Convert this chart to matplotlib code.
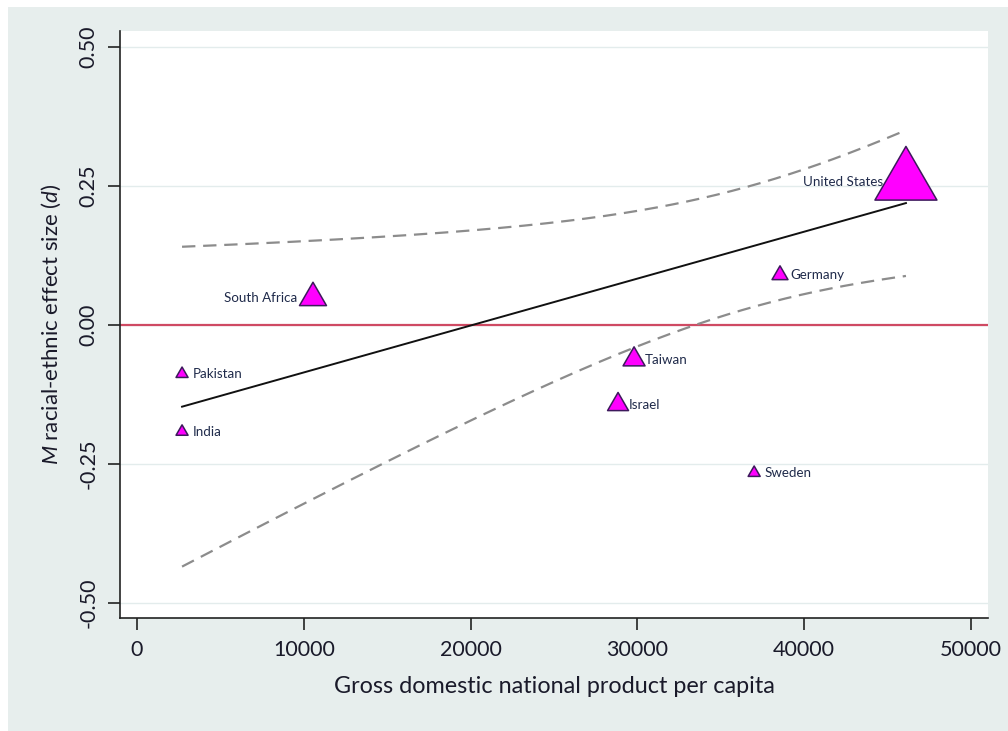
import numpy as np
import matplotlib
matplotlib.use("Agg")
import matplotlib.pyplot as plt
from matplotlib.path import Path
from matplotlib.markers import MarkerStyle
from matplotlib.patches import Rectangle

plt.rcParams["font.family"] = ["Lato", "DejaVu Sans"]
plt.rcParams["mathtext.fontset"] = "custom"
plt.rcParams["mathtext.it"] = "Lato:italic"
plt.rcParams["mathtext.rm"] = "Lato"

# Country-level data
countries = ["Pakistan", "India", "South Africa", "Israel", "Taiwan",
             "Sweden", "Germany", "United States"]
gdp = [2700, 2700, 10550, 28840, 29800, 37000, 38550, 46100]
effect = [-0.088, -0.192, 0.049, -0.143, -0.062, -0.266, 0.090, 0.257]
n_studies = [145, 145, 730, 440, 485, 145, 255, 3850]
label_side = ["right", "right", "left", "right", "right", "right", "right", "left"]

xticks = [0, 10000, 20000, 30000, 40000, 50000]
yticks = [0.50, 0.25, 0.00, -0.25, -0.50]
ytick_labels = ["0.50", "0.25", "0.00", "-0.25", "-0.50"]

x = np.asarray(gdp, float)
y = np.asarray(effect, float)
w_raw = np.asarray(n_studies, float)

# Weighted least squares (analytic weights normalised to sum to N)
N = len(x)
w = w_raw * N / w_raw.sum()
xbar = np.sum(w * x) / np.sum(w)
ybar = np.sum(w * y) / np.sum(w)
sxx = np.sum(w * (x - xbar) ** 2)
slope = np.sum(w * (x - xbar) * (y - ybar)) / sxx
intercept = ybar - slope * xbar
resid = y - (intercept + slope * x)
s2 = np.sum(w * resid ** 2) / (N - 2)
t_crit = 2.4469  # t(0.975, df=6)

xg = np.linspace(x.min(), x.max(), 200)
fit = intercept + slope * xg
se = np.sqrt(s2 * (1.0 / N + (xg - xbar) ** 2 / sxx))
lo = fit - t_crit * se
hi = fit + t_crit * se

fig = plt.figure(figsize=(10.08, 7.31), dpi=100, facecolor="white")
fig.patches.append(Rectangle((8 / 1008, 0), 1 - 8 / 1008, 1 - 7 / 731,
                             transform=fig.transFigure, facecolor="#e7eeed",
                             edgecolor="none", zorder=-10))

ax = fig.add_axes([120 / 1008, 1 - 618 / 731, 868 / 1008, 587 / 731])
ax.set_zorder(1)
ax.set_facecolor("white")
ax.set_xlim(-1020, 51020)
ax.set_ylim(-0.527, 0.529)

for yv in yticks:
    ax.axhline(yv, color="#e3ecec", lw=1.0, zorder=0.5)
ax.axhline(0, color="#cf4a63", lw=1.6, zorder=1)

ax.plot(xg, hi, color="#8c8c8c", lw=1.6, dashes=(6, 3.5), zorder=2)
ax.plot(xg, lo, color="#8c8c8c", lw=1.6, dashes=(6, 3.5), zorder=2)
ax.plot(xg, fit, color="#111111", lw=1.4, zorder=2.5)

# Triangle marker centred on its centroid
tri = Path([(0, 1), (-0.866, -0.5), (0.866, -0.5), (0, 1)],
           [Path.MOVETO, Path.LINETO, Path.LINETO, Path.CLOSEPOLY])
sizes = w_raw * 0.69
ax.scatter(x, y, s=sizes, marker=MarkerStyle(tri),
           facecolor="#ff00ff", edgecolor="#3d1a5c", linewidth=1.1, zorder=4)

for name, xi, yi, side, sz in zip(countries, x, y, label_side, sizes):
    if side == "right":
        dx, ha = 7.5, "left"
    else:
        dx, ha = -(7.6 + 0.175 * np.sqrt(sz)), "right"
    ax.annotate(name, (xi, yi), xytext=(dx, 0), textcoords="offset points",
                ha=ha, va="center", fontsize=9.6, color="#1f2a4a", zorder=3)

for side in ["top", "right"]:
    ax.spines[side].set_visible(False)
for side in ["left", "bottom"]:
    ax.spines[side].set_color("#222222")
    ax.spines[side].set_linewidth(1.2)

ax.set_xticks(xticks)
ax.set_xticklabels([str(v) for v in xticks])
ax.set_yticks(yticks)
ax.set_yticklabels(ytick_labels, rotation=90, va="center")
ax.tick_params(axis="both", length=8.5, width=1.2, color="#222222",
               labelsize=15.5, labelcolor="#1a1a2a", pad=7)

ax.set_xlabel("Gross domestic national product per capita", fontsize=16.8,
              color="#1a1a2a", labelpad=12)
ax.set_ylabel(r"$\it{M}$ racial-ethnic effect size ($\it{d}$)", fontsize=16,
              color="#1a1a2a", labelpad=11)

fig.savefig("out.png", dpi=100, facecolor="white")
